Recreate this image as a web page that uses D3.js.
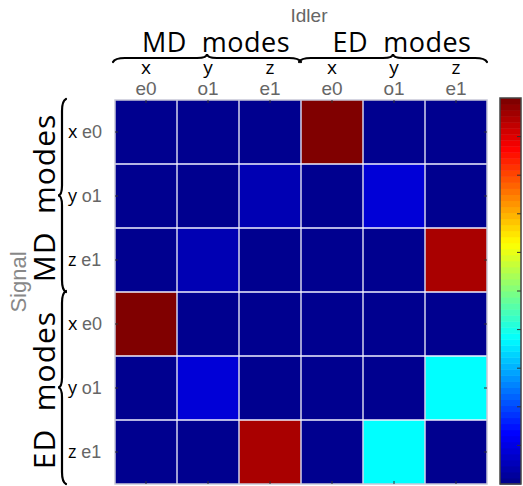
<!DOCTYPE html>
<html>
<head>
<meta charset="utf-8">
<script src="https://cdn.jsdelivr.net/npm/d3@7"></script>
<style>
  body { margin: 0; background: #fff; }
  svg { display: block; }
</style>
</head>
<body>
<div id="chart"></div>
<script>
// idler (columns) and signal (rows) modes
const axisLetters = ["x", "y", "z", "x", "y", "z"];
const axisParity = ["e0", "o1", "e1", "e0", "o1", "e1"];
const groups = ["MD modes", "ED modes"];

// coupling strength, rows = signal, cols = idler
const row0 = [0, 0, 0, 1, 0, 0];
const row1 = [0, 0, 0.04, 0, 0.08, 0];
const row2 = [0, 0.04, 0, 0, 0, 0.96];
const row3 = [1, 0, 0, 0, 0, 0];
const row4 = [0, 0.08, 0, 0, 0, 0.375];
const row5 = [0, 0, 0.96, 0, 0.375, 0];
const rows = [row0, row1, row2, row3, row4, row5];

const colorbarTicks = [0.1, 0.2, 0.3, 0.4, 0.5, 0.6, 0.7, 0.8, 0.9];

const W = 523, H = 486;

const svg = d3.select("#chart").append("svg")
  .attr("width", W)
  .attr("height", H);

const idx = d3.range(6);
const x = d3.scaleBand().domain(idx).range([115, 487]);
const y = d3.scaleBand().domain(idx).range([100, 484]);

const jet = d3.scaleLinear()
  .domain([0, 0.125, 0.375, 0.625, 0.875, 1])
  .range(["#00008f", "#0000ff", "#00ffff", "#ffff00", "#ff0000", "#800000"])
  .clamp(true);

const cells = [];
rows.forEach((r, i) => r.forEach((v, j) => cells.push({ i, j, v })));

const g = svg.append("g");

g.selectAll("rect.cell")
  .data(cells)
  .join("rect")
  .attr("class", "cell")
  .attr("x", d => x(d.j))
  .attr("y", d => y(d.i))
  .attr("width", x.bandwidth())
  .attr("height", y.bandwidth())
  .attr("fill", d => jet(d.v));

// grid lines between cells
g.selectAll("line.vgrid")
  .data(d3.range(1, 6))
  .join("line")
  .attr("x1", d => x(d)).attr("x2", d => x(d))
  .attr("y1", 100).attr("y2", 484)
  .attr("stroke", "#d4d4ec").attr("stroke-width", 1.5);
g.selectAll("line.hgrid")
  .data(d3.range(1, 6))
  .join("line")
  .attr("y1", d => y(d)).attr("y2", d => y(d))
  .attr("x1", 115).attr("x2", 487)
  .attr("stroke", "#f0f0ff").attr("stroke-width", 1.5);

g.append("rect")
  .attr("x", 115).attr("y", 100)
  .attr("width", 372).attr("height", 384)
  .attr("fill", "none")
  .attr("stroke", "#c8c8d8")
  .attr("stroke-width", 1.5);

// inner ticks at cell centres
const tk = 3;
idx.forEach(k => {
  const cx = x(k) + x.bandwidth() / 2;
  const cy = y(k) + y.bandwidth() / 2;
  g.append("line").attr("x1", cx).attr("x2", cx).attr("y1", 100).attr("y2", 100 + tk).attr("stroke", "#333");
  g.append("line").attr("x1", cx).attr("x2", cx).attr("y1", 484).attr("y2", 484 - tk).attr("stroke", "#333");
  g.append("line").attr("y1", cy).attr("y2", cy).attr("x1", 115).attr("x2", 115 + tk).attr("stroke", "#333");
  g.append("line").attr("y1", cy).attr("y2", cy).attr("x1", 487).attr("x2", 487 - tk).attr("stroke", "#333");
});

const sans = "Liberation Sans, Arial, sans-serif";
const open = "Open Sans, sans-serif";

// top labels
svg.append("text")
  .attr("x", 309).attr("y", 22)
  .attr("text-anchor", "middle")
  .attr("font-family", sans).attr("font-size", 19)
  .attr("fill", "#666")
  .text("Idler");

svg.selectAll("text.topLetter")
  .data(idx)
  .join("text")
  .attr("x", d => x(d) + x.bandwidth() / 2)
  .attr("y", 74)
  .attr("text-anchor", "middle")
  .attr("font-family", open).attr("font-size", 19)
  .attr("fill", "#000")
  .text(d => axisLetters[d]);

svg.selectAll("text.topParity")
  .data(idx)
  .join("text")
  .attr("x", d => x(d) + x.bandwidth() / 2)
  .attr("y", 95)
  .attr("text-anchor", "middle")
  .attr("font-family", sans).attr("font-size", 19)
  .attr("fill", "#666")
  .text(d => axisParity[d]);

// curly braces
function hBrace(xa, xb, yy) {
  const m = (xa + xb) / 2, r = 10;
  return `M${xa - 2},${yy + 4} Q${xa},${yy} ${xa + r},${yy} L${m - r},${yy} Q${m},${yy} ${m},${yy - 4} Q${m},${yy} ${m + r},${yy} L${xb - r},${yy} Q${xb},${yy} ${xb + 2},${yy + 4}`;
}
function vBrace(ya, yb, xx) {
  const m = (ya + yb) / 2, r = 10;
  return `M${xx + 4},${ya - 2} Q${xx},${ya} ${xx},${ya + r} L${xx},${m - r} Q${xx},${m} ${xx - 4},${m} Q${xx},${m} ${xx},${m + r} L${xx},${yb - r} Q${xx},${yb} ${xx + 4},${yb + 2}`;
}

groups.forEach((name, k) => {
  const x0 = x(k * 3), x1 = x(k * 3 + 2) + x.bandwidth();
  svg.append("text")
    .attr("x", (x0 + x1) / 2 + 8).attr("y", 52)
    .attr("text-anchor", "middle")
    .attr("font-family", open).attr("font-size", 27)
    .attr("letter-spacing", 0.5)
    .attr("fill", "#000")
    .attr("xml:space", "preserve")
    .text(name.replace(" ", "  "));
  svg.append("path")
    .attr("d", hBrace(x0, x1 - 2, 58))
    .attr("fill", "none").attr("stroke", "#000")
    .attr("stroke-width", 2.2).attr("stroke-linecap", "round");

  const y0 = y(k * 3), y1 = y(k * 3 + 2) + y.bandwidth();
  svg.append("path")
    .attr("d", vBrace(y0 + 1, y1 - 2, 62))
    .attr("fill", "none").attr("stroke", "#000")
    .attr("stroke-width", 2.2).attr("stroke-linecap", "round");
  svg.append("text")
    .attr("transform", `translate(55,${(y0 + y1) / 2 + 2}) rotate(-90)`)
    .attr("text-anchor", "middle")
    .attr("font-family", open).attr("font-size", 30)
    .attr("letter-spacing", 1)
    .attr("fill", "#000")
    .attr("xml:space", "preserve")
    .text(name.replace(" ", "  "));
});

// left labels
const leftLab = svg.selectAll("text.leftLab")
  .data(idx)
  .join("text")
  .attr("x", 68)
  .attr("y", d => y(d) + y.bandwidth() / 2 + 6)
  .attr("font-size", 18);
leftLab.append("tspan")
  .attr("font-family", open).attr("fill", "#000")
  .text(d => axisLetters[d] + " ");
leftLab.append("tspan")
  .attr("font-family", sans).attr("fill", "#666")
  .text(d => axisParity[d]);

svg.append("text")
  .attr("transform", "translate(26,282) rotate(-90)")
  .attr("text-anchor", "middle")
  .attr("font-family", sans).attr("font-size", 22)
  .attr("fill", "#888")
  .text("Signal");

// colorbar
const cb = { x: 500, w: 21, top: 98, bottom: 484 };
const cy = d3.scaleLinear().domain([0, 1]).range([cb.bottom, cb.top]);
const levels = d3.range(64);
svg.selectAll("rect.cb")
  .data(levels)
  .join("rect")
  .attr("x", cb.x)
  .attr("y", d => cy((d + 1) / 64))
  .attr("width", cb.w)
  .attr("height", d => cy(d / 64) - cy((d + 1) / 64) + 0.5)
  .attr("fill", d => jet(d / 63));

svg.append("rect")
  .attr("x", cb.x).attr("y", cb.top)
  .attr("width", cb.w).attr("height", cb.bottom - cb.top)
  .attr("fill", "none").attr("stroke", "#444").attr("stroke-width", 1.5);

svg.selectAll("line.cbTick")
  .data(colorbarTicks)
  .join("line")
  .attr("x1", cb.x + cb.w).attr("x2", cb.x + cb.w - 4)
  .attr("y1", d => cy(d)).attr("y2", d => cy(d))
  .attr("stroke", "#333").attr("stroke-width", 1);
</script>
</body>
</html>
